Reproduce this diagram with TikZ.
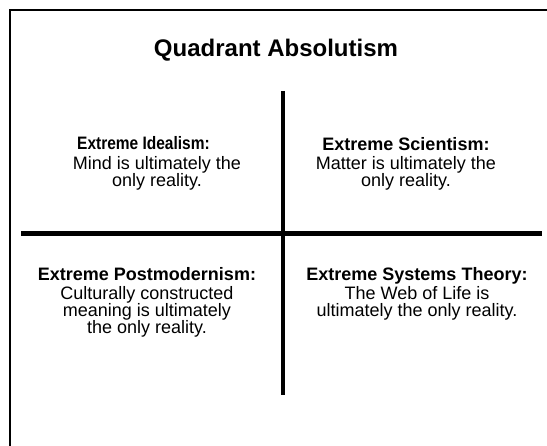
\documentclass[tikz,border=0pt]{standalone}
\usepackage{fontspec}
\setmainfont{Liberation Sans}
\begin{document}
\begin{tikzpicture}[x=1pt,y=-1pt,
  titletext/.style={font=\fontsize{24}{28}\selectfont\bfseries, inner sep=0pt, anchor=base},
  qtext/.style={font=\fontsize{18}{17}\selectfont, align=center, inner sep=0pt, anchor=base},
  qhead/.style={font=\fontsize{18}{17}\selectfont\bfseries, inner sep=0pt, anchor=base},
  frameline/.style={line width=2.5pt},
  vdivider/.style={line width=4pt},
  hdivider/.style={line width=5pt}]
\useasboundingbox (0,0) rectangle (547,446);
\clip (0,0) rectangle (547,446);
\coordinate (fb) at (10,470);
\coordinate (fc) at (10,10);
\coordinate (fr) at (570,10);
\draw[frameline] (fb) -- (fc) -- (fr);
\node[titletext] (title) at (276,57) {Quadrant Absolutism};
\coordinate (vt) at (283,91);
\coordinate (vb) at (283,395);
\coordinate (hl) at (21,233.5);
\coordinate (hr) at (542,233.5);
\draw[vdivider] (vt) -- (vb);
\draw[hdivider] (hl) -- (hr);
\node[qhead] (ulh) at (143.5,150) {\scalebox{0.86}[1]{Extreme Idealism:}};
\node[qtext] (ul) at (157,186.5) {Mind is ultimately the\\only reality.};
\node[qtext] (ur) at (406,186.5) {\textbf{Extreme Scientism:}\\[2pt]Matter is ultimately the\\only reality.};
\node[qtext] (ll) at (147,334) {\textbf{Extreme Postmodernism:}\\[2pt]Culturally constructed\\meaning is ultimately\\the only reality.};
\node[qtext] (lr) at (417,317) {\textbf{Extreme Systems Theory:}\\[2pt]The Web of Life is\\ultimately the only reality.};
\end{tikzpicture}
\end{document}
